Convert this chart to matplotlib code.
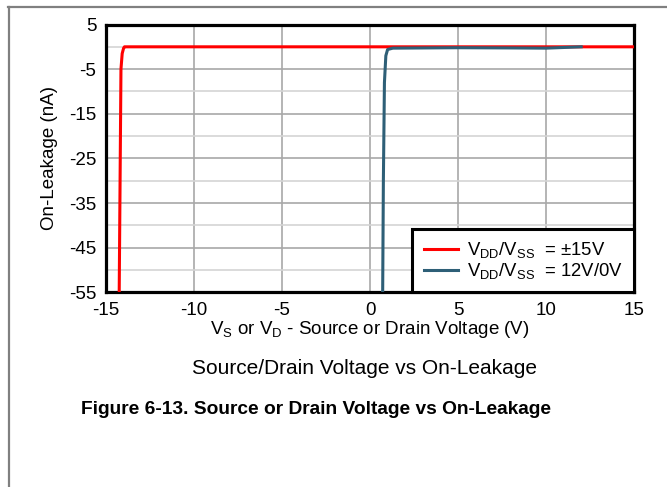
import matplotlib
matplotlib.use("Agg")
import matplotlib.pyplot as plt
from matplotlib.lines import Line2D

plt.rcParams['font.family'] = ['Liberation Sans', 'DejaVu Sans']
plt.rcParams['mathtext.default'] = 'regular'
plt.rcParams['axes.unicode_minus'] = False

# curves
x_15v = [-14.25, -14.2, -14.15, -14.08, -14.0, -13.95, 15.0]
y_15v = [-55, -30, -5, -1.5, -0.3, 0.0, 0.0]
x_12v = [0.72, 0.76, 0.82, 0.9, 1.0, 1.3, 5.0, 8.0, 10.0, 12.0]
y_12v = [-55, -30, -8, -2, -0.6, -0.3, -0.2, -0.25, -0.3, 0.0]

label_15v = 'V$_{DD}$/V$_{SS}$  = \u00b115V'
label_12v = 'V$_{DD}$/V$_{SS}$  = 12V/0V'

xticks = [-15, -10, -5, 0, 5, 10, 15]
yticks = [5, -5, -15, -25, -35, -45, -55]
yminor = [0, -10, -20, -30, -40, -50]

fig = plt.figure(figsize=(6.67, 4.87), dpi=100)
ax = fig.add_axes([106 / 667, 1 - 292.3 / 487, 528 / 667, 267.8 / 487])

ax.plot(x_15v, y_15v, color='#ff0000', lw=2.2, label=label_15v, zorder=3)
ax.plot(x_12v, y_12v, color='#2e5f77', lw=2.2, label=label_12v, zorder=4)

ax.set_xlim(-15, 15)
ax.set_ylim(-55, 5)
ax.set_xticks(xticks)
ax.set_yticks(yticks)
ax.set_yticks(yminor, minor=True)
ax.tick_params(which='both', length=0, labelsize=13.5, pad=7)
ax.grid(True, which='major', color='#a8a8a8', lw=1.2)
ax.grid(True, which='minor', axis='y', color='#d4d4d4', lw=1.2)
ax.set_axisbelow(True)
for s in ax.spines.values():
    s.set_linewidth(2.3)
    s.set_color('black')

ax.set_xlabel('V$_S$ or V$_D$ - Source or Drain Voltage (V)', fontsize=13.5, labelpad=0)
ax.set_ylabel('On-Leakage (nA)', fontsize=13.5, labelpad=8)

leg = ax.legend(loc='lower right', fontsize=13.3, frameon=True, fancybox=False,
                borderaxespad=0, handlelength=1.85, handletextpad=0.5,
                labelspacing=0.05, borderpad=0.6, framealpha=1)
leg.get_frame().set_edgecolor('black')
leg.get_frame().set_linewidth(2.2)

fig.text(365 / 667, 1 - 368 / 487, 'Source/Drain Voltage vs On-Leakage', fontsize=15,
         ha='center', va='center')
fig.text(316 / 667, 1 - 409 / 487, 'Figure 6-13. Source or Drain Voltage vs On-Leakage',
         fontsize=13.8, fontweight='bold', ha='center', va='center')

# page border (top and left edges)
fig.add_artist(Line2D([8 / 667, 1.0], [1 - 7 / 487, 1 - 7 / 487], color='#808080', lw=1.6))
fig.add_artist(Line2D([9 / 667, 9 / 667], [0.0, 1 - 7 / 487], color='#808080', lw=1.6))

fig.savefig('out.png', dpi=100)
